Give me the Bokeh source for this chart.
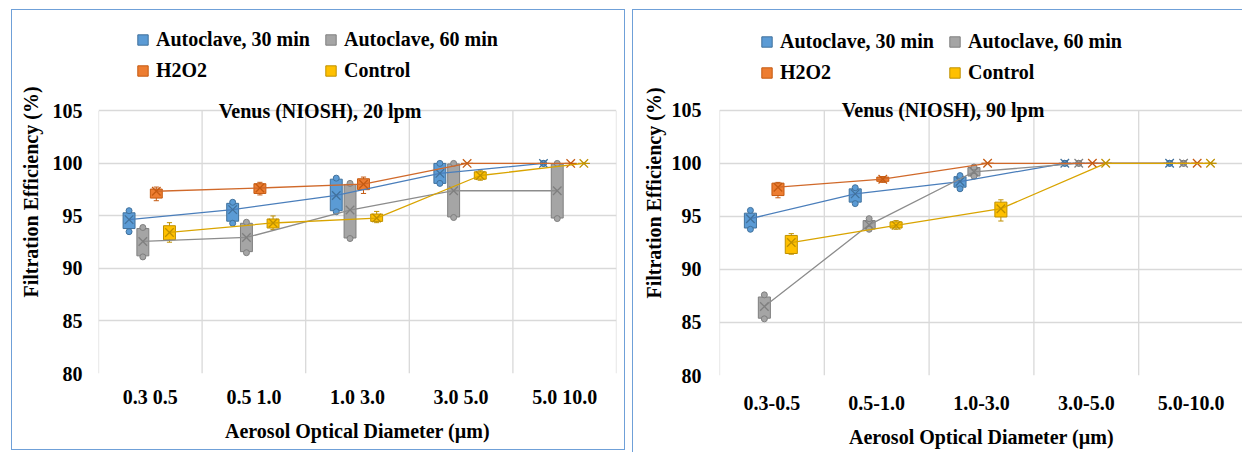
from bokeh.plotting import figure
from bokeh.models import (Range1d, FixedTicker, Legend, LegendItem, Label,
                          ColumnDataSource)
from bokeh.layouts import row
from bokeh.embed import file_html
from bokeh.resources import INLINE

# ---------------- data ----------------
categories_20 = ["0.3 0.5", "0.5 1.0", "1.0 3.0", "3.0 5.0", "5.0 10.0"]
categories_90 = ["0.3-0.5", "0.5-1.0", "1.0-3.0", "3.0-5.0", "5.0-10.0"]
series_names = ["Autoclave, 30 min", "Autoclave, 60 min", "H2O2", "Control"]

# Venus (NIOSH), 20 lpm  -- whisker low, Q1, Q3, whisker high, mean
a30_20 = dict(lo=[93.5, 94.3, 95.4, 98.1, 100], q1=[93.8, 94.5, 95.5, 98.1, 100],
              q3=[95.3, 96.2, 98.5, 100, 100], hi=[95.5, 96.3, 98.6, 100, 100],
              mean=[94.65, 95.6, 96.95, 99.05, 100])
a60_20 = dict(lo=[91.1, 91.5, 92.85, 94.85, 94.75], q1=[91.2, 91.6, 92.9, 94.9, 94.8],
              q3=[93.8, 94.3, 98.0, 99.95, 99.95], hi=[93.9, 94.4, 98.1, 100, 100],
              mean=[92.57, 92.95, 95.56, 97.4, 97.4])
h2o2_20 = dict(lo=[96.45, 97.0, 97.14, 100, 100], q1=[96.7, 97.14, 97.5, 100, 100],
               q3=[97.56, 98.07, 98.54, 100, 100], hi=[97.75, 98.2, 98.7, 100, 100],
               mean=[97.35, 97.66, 98.02, 100, 100])
ctrl_20 = dict(lo=[92.5, 93.7, 94.36, 98.4, 100], q1=[92.73, 93.85, 94.48, 98.5, 100],
               q3=[94.07, 94.71, 95.18, 99.2, 100], hi=[94.36, 95.0, 95.43, 99.3, 100],
               mean=[93.43, 94.33, 94.8, 98.85, 100])

# Venus (NIOSH), 90 lpm
a30_90 = dict(lo=[93.78, 96.2, 97.6, 100, 100], q1=[93.9, 96.34, 97.75, 100, 100],
              q3=[95.3, 97.59, 98.74, 100, 100], hi=[95.56, 97.7, 98.84, 100, 100],
              mean=[94.78, 97.12, 98.28, 100, 100])
a60_90 = dict(lo=[85.34, 93.78, 98.78, 100, 100], q1=[85.4, 93.8, 98.8, 100, 100],
              q3=[87.4, 94.6, 99.6, 100, 100], hi=[87.6, 94.78, 99.65, 100, 100],
              mean=[86.5, 94.2, 99.2, 100, 100])
h2o2_90 = dict(lo=[96.75, 98.2, 100, 100, 100], q1=[96.96, 98.3, 100, 100, 100],
               q3=[98.13, 98.7, 100, 100, 100], hi=[98.2, 98.75, 100, 100, 100],
               mean=[97.75, 98.5, 100, 100, 100])
ctrl_90 = dict(lo=[91.43, 93.78, 94.56, 100, 100], q1=[91.5, 93.9, 94.94, 100, 100],
               q3=[93.2, 94.48, 96.34, 100, 100], hi=[93.37, 94.6, 96.56, 100, 100],
               mean=[92.53, 94.15, 95.72, 100, 100])

y_ticks = [80, 85, 90, 95, 100, 105]

# ---------------- style ----------------
FILL = ["#5B9BD5", "#A5A5A5", "#ED7D31", "#FFC000"]
DARK = ["#41719C", "#7F7F7F", "#C55A11", "#BF9000"]
LINE = ["#4A7EBB", "#8C8C8C", "#D0692A", "#D9A400"]
OFFS = [-0.205, -0.072, 0.058, 0.185]
BOXW = 0.115
FONT = "Liberation Serif"
GRID = "#D9D9D9"
BORDER = "1.5px solid #6FA0D8"


def make_panel(cats, data, title, fig_w, fig_h, b_left, b_right, b_bottom,
               px_per_unit, tick_std, xlab_std, ytick_std, ylab_std,
               legend_xy, title_x):
    frame_h = fig_h - b_bottom
    ymax = 80 + frame_h / px_per_unit
    p = figure(width=fig_w, height=fig_h, x_range=Range1d(0, 5), y_range=Range1d(80, ymax),
               output_backend="svg", toolbar_location=None,
               min_border_left=b_left, min_border_right=b_right,
               min_border_top=0, min_border_bottom=b_bottom)
    p.background_fill_color = "white"
    p.border_fill_color = "white"
    p.outline_line_color = None

    # axes
    p.yaxis.ticker = FixedTicker(ticks=y_ticks)
    p.yaxis.bounds = (80, 105)
    p.xaxis.ticker = FixedTicker(ticks=[i + 0.5 for i in range(len(cats))])
    p.xaxis.major_label_overrides = {i + 0.5: c for i, c in enumerate(cats)}
    for ax in (p.xaxis, p.yaxis):
        ax.axis_line_color = None
        ax.major_tick_line_color = None
        ax.minor_tick_line_color = None
        ax.major_label_text_font = FONT
        ax.major_label_text_font_style = "bold"
        ax.major_label_text_font_size = "20px"
        ax.major_label_text_color = "black"
        ax.axis_label_text_font = FONT
        ax.axis_label_text_font_style = "bold"
        ax.axis_label_text_font_size = "20px"
        ax.axis_label_text_color = "black"
    p.xaxis.axis_label = "Aerosol Optical Diameter (µm)"
    p.yaxis.axis_label = "Filtration Efficiency (%)"
    p.xaxis.major_label_standoff = tick_std
    p.xaxis.axis_label_standoff = xlab_std
    p.yaxis.major_label_standoff = ytick_std
    p.yaxis.axis_label_standoff = ylab_std

    # gridlines: horizontal from the y ticker, vertical at category borders (80..105 only)
    p.xgrid.visible = False
    p.ygrid.ticker = FixedTicker(ticks=y_ticks)
    p.ygrid.grid_line_color = GRID
    p.ygrid.grid_line_width = 1.3
    gx = list(range(len(cats) + 1))
    p.segment(x0=gx, y0=[y_ticks[0]] * len(gx), x1=gx, y1=[y_ticks[-1]] * len(gx),
              line_color=GRID, line_width=1.3)

    box_renderers = []
    for s, d in enumerate(data):
        xs = [i + 0.5 + OFFS[s] for i in range(len(cats))]
        src = ColumnDataSource(dict(x=xs, lo=d["lo"], q1=d["q1"], q3=d["q3"],
                                    hi=d["hi"], mean=d["mean"],
                                    xl=[x - 0.025 for x in xs], xr=[x + 0.025 for x in xs]))
        p.segment(x0="x", y0="lo", x1="x", y1="hi", source=src, line_color=DARK[s], line_width=1)
        if s >= 2:
            p.segment(x0="xl", y0="lo", x1="xr", y1="lo", source=src, line_color=DARK[s], line_width=1)
            p.segment(x0="xl", y0="hi", x1="xr", y1="hi", source=src, line_color=DARK[s], line_width=1)
        r = p.vbar(x="x", width=BOXW, top="q3", bottom="q1", source=src,
                   fill_color=FILL[s], line_color=DARK[s], line_width=1)
        box_renderers.append(r)
        if s < 2:
            p.scatter(x="x", y="lo", source=src, marker="circle", size=6,
                      fill_color=FILL[s], line_color=DARK[s], line_width=1)
            p.scatter(x="x", y="hi", source=src, marker="circle", size=6,
                      fill_color=FILL[s], line_color=DARK[s], line_width=1)
    for s, d in enumerate(data):
        xs = [i + 0.5 + OFFS[s] for i in range(len(cats))]
        src = ColumnDataSource(dict(x=xs, mean=d["mean"]))
        p.line(x="x", y="mean", source=src, line_color=LINE[s], line_width=1.3)
        p.scatter(x="x", y="mean", source=src, marker="x", size=12,
                  line_color=DARK[s], line_width=1.3)

    items = [LegendItem(label=series_names[s], renderers=[box_renderers[s]]) for s in range(4)]
    legend = Legend(items=items, orientation="horizontal", ncols=2,
                    location=legend_xy, glyph_width=13, glyph_height=13,
                    label_text_font=FONT, label_text_font_style="bold",
                    label_text_font_size="20px", label_text_color="black",
                    label_standoff=7, label_width=160, spacing=8, padding=0,
                    margin=0, border_line_color=None, background_fill_alpha=0)
    p.add_layout(legend, "center")

    # chart title, centred on the chart area and sitting on the top gridline
    p.add_layout(Label(x=title_x, y=y_ticks[-1], x_units="screen", y_units="data", text=title,
                       text_font=FONT, text_font_style="bold", text_font_size="20px",
                       text_align="center", text_baseline="middle", text_color="black"))
    return p


p1 = make_panel(categories_20, [a30_20, a60_20, h2o2_20, ctrl_20],
                "Venus (NIOSH), 20 lpm", 614, 441, 86, 10, 78,
                (373.3 - 110.7) / 25, 6, 9, 10, 8, (38, 291), 221.5)
p1.margin = (9, 0, 0, 11)
p1.styles = {"border": BORDER}

p2 = make_panel(categories_90, [a30_90, a60_90, h2o2_90, ctrl_90],
                "Venus (NIOSH), 90 lpm", 610, 443, 86, 0, 76,
                (377.7 - 111) / 25, 14, 13, 12, 4, (41, 291), 223.5)
p2.margin = (9, 0, 0, 7)
p2.styles = {"border-left": BORDER, "border-top": BORDER}

layout = row(p1, p2, spacing=0)
open("out.html", "w").write(file_html(layout, INLINE))
